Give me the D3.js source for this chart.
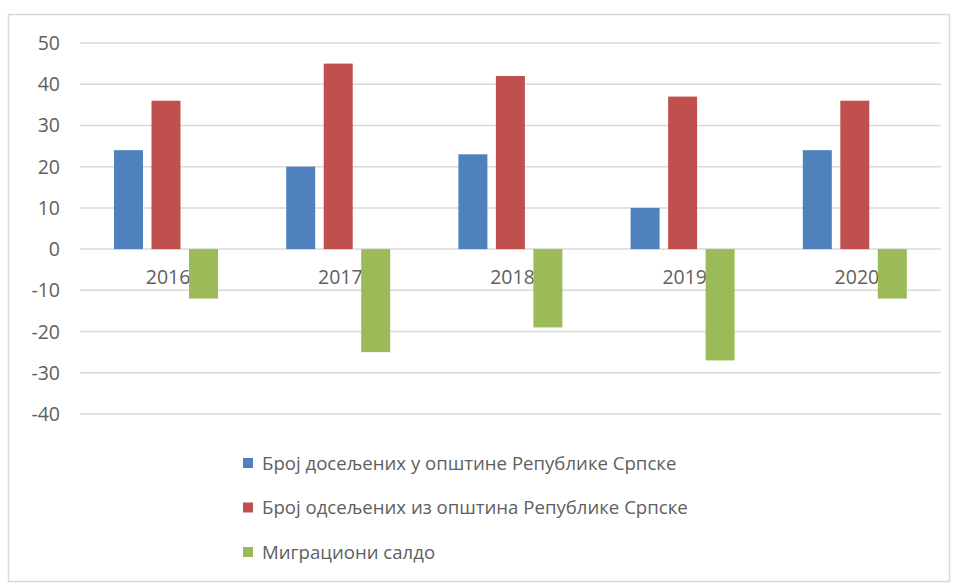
<!DOCTYPE html>
<html>
<head>
<meta charset="utf-8">
<script src="https://cdn.jsdelivr.net/npm/d3@7"></script>
<style>
  body { margin: 0; background: #fff; }
  svg { display: block; }
  text { font-family: "Open Sans", "Noto Sans", sans-serif; fill: #606060; }
</style>
</head>
<body>
<svg id="chart" width="958" height="585"></svg>
<script>
// Chart data
const years = ["2016", "2017", "2018", "2019", "2020"];
const seriesNames = [
  "Број досељених у општине Републике Српске",
  "Број одсељених из општина Републике Српске",
  "Миграциони салдо"
];
const immigrants = [24, 20, 23, 10, 24];
const emigrants = [36, 45, 42, 37, 36];
const balance = [-12, -25, -19, -27, -12];
const yTicks = [-40, -30, -20, -10, 0, 10, 20, 30, 40, 50];
const colors = ["#4f81bd", "#c0504d", "#9bbb59"];

const allValues = [immigrants, emigrants, balance];

const svg = d3.select("#chart");

// outer frame
svg.append("rect")
  .attr("x", 8.5).attr("y", 14.5)
  .attr("width", 941).attr("height", 567)
  .attr("fill", "none")
  .attr("stroke", "#d9d9d9")
  .attr("stroke-width", 1.5);

const plotLeft = 80, plotRight = 941;

const y = d3.scaleLinear().domain([-40, 50]).range([414, 43]);
const x0 = d3.scaleBand().domain(years).range([plotLeft, plotRight]);
const x1 = d3.scaleBand().domain(d3.range(3)).range([34, 138]).paddingInner(0.227);

// gridlines
svg.append("g")
  .selectAll("line")
  .data(yTicks)
  .enter().append("line")
  .attr("x1", plotLeft).attr("x2", plotRight)
  .attr("y1", d => y(d)).attr("y2", d => y(d))
  .attr("stroke", "#d9d9d9")
  .attr("stroke-width", 1.5);

// y axis labels
svg.append("g")
  .selectAll("text")
  .data(yTicks)
  .enter().append("text")
  .attr("x", 60)
  .attr("y", d => y(d))
  .attr("dy", "0.36em")
  .attr("text-anchor", "end")
  .style("font-size", "19.5px")
  .text(d => d);

// category labels (sit right under the zero line, behind bars)
svg.append("g")
  .selectAll("text")
  .data(years)
  .enter().append("text")
  .attr("x", d => x0(d) + x0.bandwidth() / 2 + 2)
  .attr("y", y(0) + 35)
  .attr("text-anchor", "middle")
  .style("font-size", "19.5px")
  .text(d => d);

// bars
const groups = svg.append("g")
  .selectAll("g")
  .data(years)
  .enter().append("g")
  .attr("transform", d => `translate(${x0(d)},0)`);

groups.selectAll("rect")
  .data((d, i) => allValues.map((vals, s) => ({ s: s, v: vals[i] })))
  .enter().append("rect")
  .attr("x", d => x1(d.s))
  .attr("width", x1.bandwidth())
  .attr("y", d => y(Math.max(0, d.v)))
  .attr("height", d => Math.abs(y(d.v) - y(0)))
  .attr("fill", d => colors[d.s]);

// legend
const legend = svg.append("g")
  .selectAll("g")
  .data(seriesNames)
  .enter().append("g")
  .attr("transform", (d, i) => `translate(243,${463 + i * 44.5})`);

legend.append("rect")
  .attr("x", 0).attr("y", -5)
  .attr("width", 10).attr("height", 10)
  .attr("fill", (d, i) => colors[i]);

legend.append("text")
  .attr("x", 19)
  .attr("dy", "0.36em")
  .style("font-size", "18.6px")
  .text(d => d);
</script>
</body>
</html>
